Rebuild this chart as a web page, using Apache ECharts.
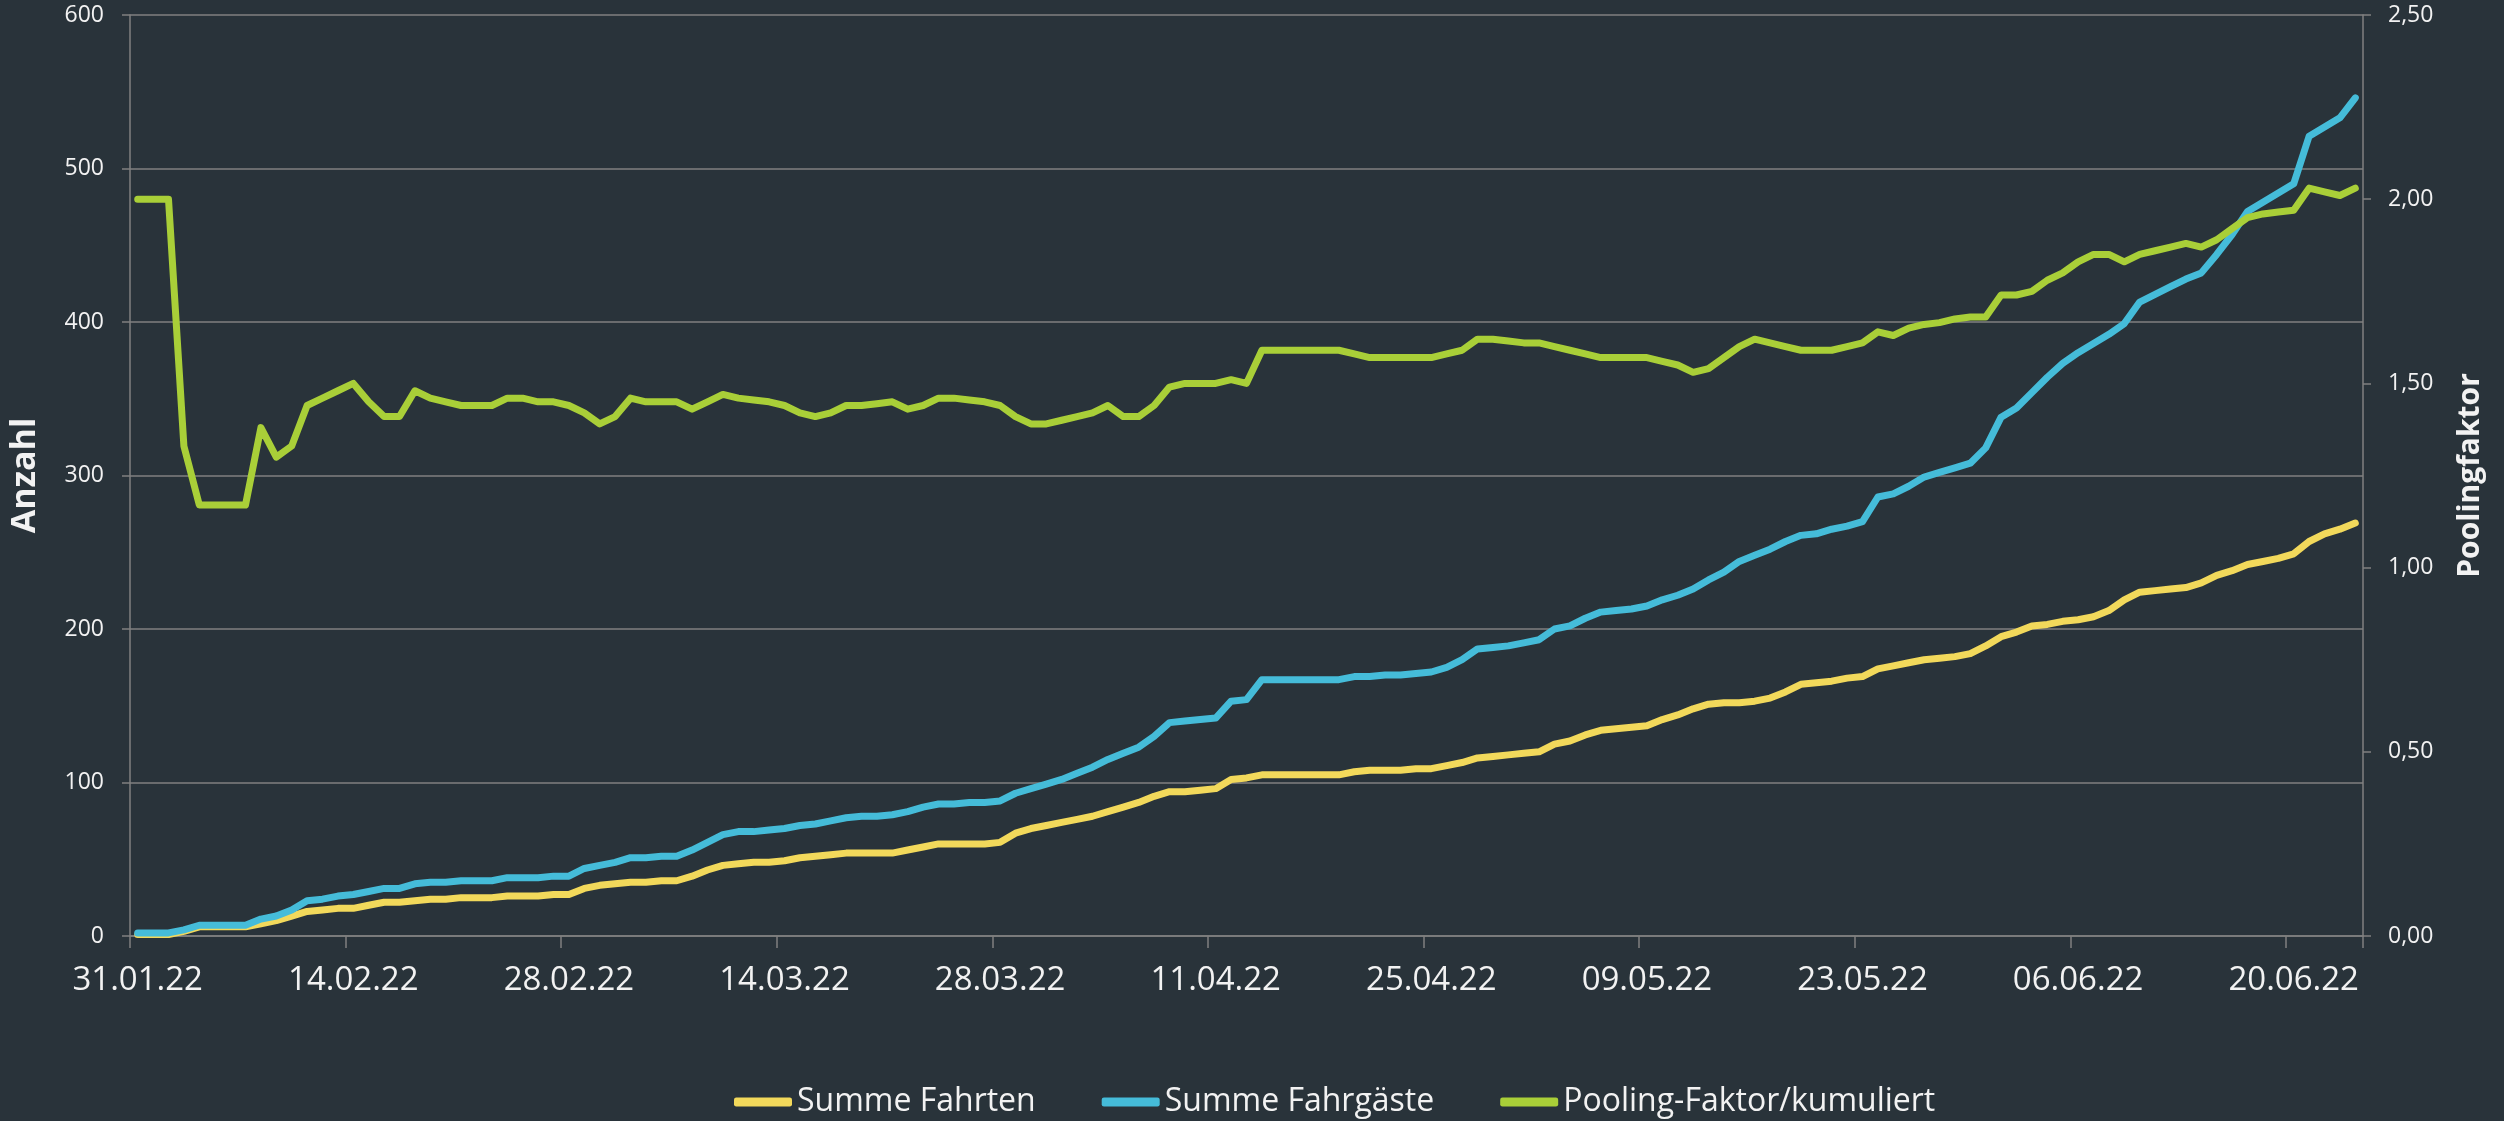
<!DOCTYPE html>
<html>
<head>
<meta charset="utf-8">
<title>Pooling-Faktor</title>
<script src="https://cdn.jsdelivr.net/npm/echarts@6/dist/echarts.min.js"></script>
<style>
  html, body { margin: 0; padding: 0; background: #29333a; }
  #main { width: 2504px; height: 1121px; }
</style>
</head>
<body>
<div id="main"></div>
<script>
// Daily values from 31.01.22 onwards
const fahrten = [
  1, 1, 1, 3, 6, 6, 6, 6, 8, 10, 13, 16, 17, 18, 18, 20, 22, 22, 23, 24,
  24, 25, 25, 25, 26, 26, 26, 27, 27, 31, 33, 34, 35, 35, 36, 36, 39, 43, 46, 47,
  48, 48, 49, 51, 52, 53, 54, 54, 54, 54, 56, 58, 60, 60, 60, 60, 61, 67, 70, 72,
  74, 76, 78, 81, 84, 87, 91, 94, 94, 95, 96, 102, 103, 105, 105, 105, 105, 105, 105, 107,
  108, 108, 108, 109, 109, 111, 113, 116, 117, 118, 119, 120, 125, 127, 131, 134, 135, 136, 137, 141,
  144, 148, 151, 152, 152, 153, 155, 159, 164, 165, 166, 168, 169, 174, 176, 178, 180, 181, 182, 184,
  189, 195, 198, 202, 203, 205, 206, 208, 212, 219, 224, 225, 226, 227, 230, 235, 238, 242, 244, 246,
  249, 257, 262, 265, 269
]
const fahrgaeste = [
  2, 2, 2, 4, 7, 7, 7, 7, 11, 13, 17, 23, 24, 26, 27, 29, 31, 31, 34, 35,
  35, 36, 36, 36, 38, 38, 38, 39, 39, 44, 46, 48, 51, 51, 52, 52, 56, 61, 66, 68,
  68, 69, 70, 72, 73, 75, 77, 78, 78, 79, 81, 84, 86, 86, 87, 87, 88, 93, 96, 99,
  102, 106, 110, 115, 119, 123, 130, 139, 140, 141, 142, 153, 154, 167, 167, 167, 167, 167, 167, 169,
  169, 170, 170, 171, 172, 175, 180, 187, 188, 189, 191, 193, 200, 202, 207, 211, 212, 213, 215, 219,
  222, 226, 232, 237, 244, 248, 252, 257, 261, 262, 265, 267, 270, 286, 288, 293, 299, 302, 305, 308,
  318, 338, 344, 354, 364, 373, 380, 386, 392, 399, 413, 418, 423, 428, 432, 444, 457, 472, 478, 484,
  490, 521, 527, 533, 546
]
const poolingFaktor = [
  2.00, 2.00, 2.00, 1.33, 1.17, 1.17, 1.17, 1.17, 1.38, 1.30, 1.33, 1.44, 1.46, 1.48, 1.50, 1.45, 1.41, 1.41, 1.48, 1.46,
  1.45, 1.44, 1.44, 1.44, 1.46, 1.46, 1.45, 1.45, 1.44, 1.42, 1.39, 1.41, 1.46, 1.45, 1.45, 1.45, 1.43, 1.45, 1.47, 1.46,
  1.455, 1.45, 1.44, 1.42, 1.41, 1.42, 1.44, 1.44, 1.445, 1.45, 1.43, 1.44, 1.46, 1.46, 1.455, 1.45, 1.44, 1.41, 1.39, 1.39,
  1.40, 1.41, 1.42, 1.44, 1.41, 1.41, 1.44, 1.49, 1.50, 1.50, 1.50, 1.51, 1.50, 1.59, 1.59, 1.59, 1.59, 1.59, 1.59, 1.58,
  1.57, 1.57, 1.57, 1.57, 1.57, 1.58, 1.59, 1.62, 1.62, 1.615, 1.61, 1.61, 1.60, 1.59, 1.58, 1.57, 1.57, 1.57, 1.57, 1.56,
  1.55, 1.53, 1.54, 1.57, 1.60, 1.62, 1.61, 1.60, 1.59, 1.59, 1.59, 1.60, 1.61, 1.64, 1.63, 1.65, 1.66, 1.665, 1.675, 1.68,
  1.68, 1.74, 1.74, 1.75, 1.78, 1.80, 1.83, 1.85, 1.85, 1.83, 1.85, 1.86, 1.87, 1.88, 1.87, 1.89, 1.92, 1.95, 1.96, 1.965,
  1.97, 2.03, 2.02, 2.01, 2.03
]
const seriesNames = ['Summe Fahrten', 'Summe Fahrgäste', 'Pooling-Faktor/kumuliert']
const colors = ['#f2d95b', '#45bcd9', '#a9cf38']
const labelEvery = 14 // one date label every two weeks

const pad = n => (n < 10 ? '0' : '') + n
const tage = []
for (let i = 0; i < fahrten.length; i++) {
  const d = new Date(2022, 0, 31 + i)
  tage.push(pad(d.getDate()) + '.' + pad(d.getMonth() + 1) + '.' + String(d.getFullYear()).slice(2))
}

const gridColor = '#808080'
const textColor = '#f2f2f2'
const font = '"Open Sans", "Noto Sans", sans-serif'

const lineSeries = (name, data, color, yAxisIndex) => ({
  name: name,
  type: 'line',
  yAxisIndex: yAxisIndex,
  data: data,
  showSymbol: false,
  symbol: 'none',
  lineStyle: { color: color, width: 7, cap: 'round', join: 'round' },
  itemStyle: { color: color },
  z: 2 + yAxisIndex
})

const option = {
  backgroundColor: '#29333a',
  animation: false,
  textStyle: { fontFamily: font },
  grid: { left: 128, right: 141, top: 15, bottom: 185 },
  legend: {
    left: 734,
    top: 1086,
    icon: 'roundRect',
    itemWidth: 58,
    itemHeight: 9,
    itemGap: 66,
    padding: 0,
    textStyle: { color: textColor, fontSize: 32, fontFamily: font },
    data: seriesNames
  },
  xAxis: {
    type: 'category',
    boundaryGap: true,
    data: tage,
    axisLine: { show: true, lineStyle: { color: gridColor, width: 1.5 } },
    axisTick: { show: true, interval: labelEvery - 1, length: 12, lineStyle: { color: gridColor, width: 1.5 } },
    axisLabel: { interval: labelEvery - 1, color: textColor, fontSize: 33, margin: 28, fontFamily: font },
    splitLine: { show: false }
  },
  yAxis: [
    {
      type: 'value',
      min: 0,
      max: 600,
      interval: 100,
      name: 'Anzahl',
      nameLocation: 'middle',
      nameRotate: 90,
      nameGap: 88,
      nameTextStyle: { color: textColor, fontSize: 34, fontWeight: 'bold', fontFamily: font },
      axisLine: { show: true, lineStyle: { color: gridColor, width: 1.5 } },
      axisTick: { show: true, length: 8, lineStyle: { color: gridColor, width: 1.5 } },
      axisLabel: { color: textColor, fontSize: 23, margin: 26, fontFamily: font },
      splitLine: { show: true, lineStyle: { color: gridColor, width: 1.5 } }
    },
    {
      type: 'value',
      position: 'right',
      min: 0,
      max: 2.5,
      interval: 0.5,
      name: 'Poolingfaktor',
      nameLocation: 'middle',
      nameRotate: 90,
      nameGap: 92,
      nameTextStyle: { color: textColor, fontSize: 30, fontWeight: 'bold', fontFamily: font },
      axisLine: { show: true, lineStyle: { color: gridColor, width: 1.5 } },
      axisTick: { show: true, length: 8, lineStyle: { color: gridColor, width: 1.5 } },
      axisLabel: {
        color: textColor,
        fontSize: 23,
        margin: 25,
        fontFamily: font,
        formatter: v => v.toFixed(2).replace('.', ',')
      },
      splitLine: { show: false }
    }
  ],
  series: [
    lineSeries(seriesNames[0], fahrten, colors[0], 0),
    lineSeries(seriesNames[1], fahrgaeste, colors[1], 0),
    lineSeries(seriesNames[2], poolingFaktor, colors[2], 1)
  ]
}

const chart = echarts.init(document.getElementById('main'))
chart.setOption(option)
window.addEventListener('resize', () => chart.resize())
</script>
</body>
</html>
